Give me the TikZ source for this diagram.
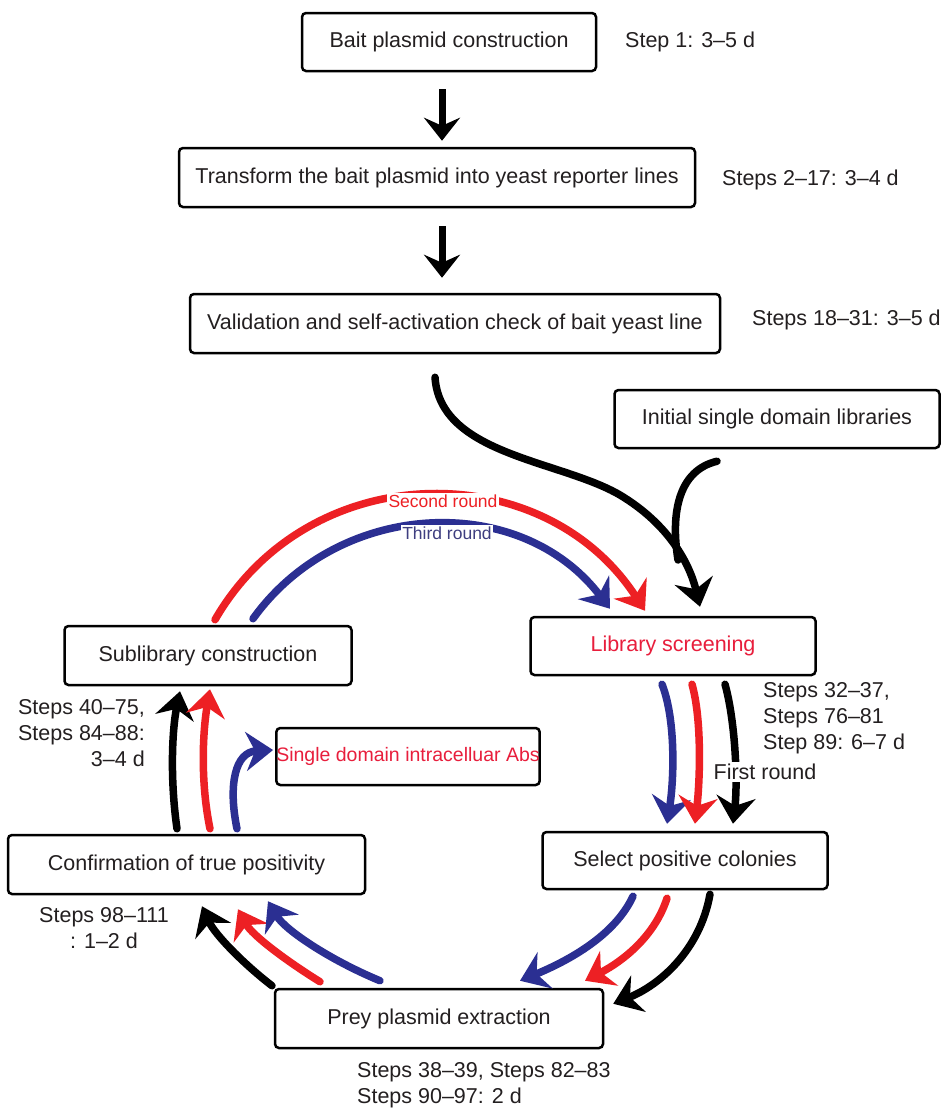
\documentclass[tikz,border=0pt]{standalone}
\usepackage{fontspec}
\setmainfont{Liberation Sans}
\usetikzlibrary{arrows.meta,calc}
\definecolor{myred}{RGB}{237,32,36}
\definecolor{myblue}{RGB}{43,47,146}
\definecolor{txtred}{RGB}{232,30,60}
\definecolor{txtblue}{RGB}{62,62,128}
\definecolor{txt}{RGB}{35,31,32}
\begin{document}
\begin{tikzpicture}[x=1pt,y=-1pt,
  box/.style={draw=black,line width=2.5pt,rounded corners=4pt,fill=white,inner sep=0pt,
    font=\fontsize{21.5}{25}\selectfont,text=txt},
  lbl/.style={font=\fontsize{21.5}{26}\selectfont,text=txt,inner sep=0pt},
  rlbl/.style={font=\fontsize{17.5}{20}\selectfont,fill=white,inner sep=1.5pt},
  varr/.style={line width=7pt,-{Stealth[length=23pt,width=36pt,inset=8pt]}},
  arr/.style={line width=7.5pt,line cap=round,-{Stealth[length=27pt,width=39pt,inset=9pt]}},
  plain/.style={line width=7.5pt,line cap=round}
]
\useasboundingbox[fill=white] (0,0) rectangle (946,1109);

% boxes
\node[box,minimum width=294pt,minimum height=58pt] (bait) at (449,42) {Bait plasmid construction};
\node[box,minimum width=516pt,minimum height=59pt] (trans) at (437,177.5) {Transform the bait plasmid into yeast reporter lines};
\node[box,minimum width=530pt,minimum height=59pt] (valid) at (455,323.5) {Validation and self-activation check of bait yeast line};
\node[box,minimum width=325pt,minimum height=58pt] (init) at (777,419) {Initial single domain libraries};
\node[box,minimum width=285pt,minimum height=58pt,text=txtred] (lib) at (673,646) {Library screening};
\node[box,minimum width=285pt,minimum height=57pt] (sel) at (685,860.5) {Select positive colonies};
\node[box,minimum width=287pt,minimum height=59pt] (sub) at (208,655.5) {Sublibrary construction};
\node[box,minimum width=258pt,minimum height=57pt,text=txtred,font=\fontsize{19.5}{23}\selectfont] (single) at (408,756.5) {Single domain intracelluar Abs};
\node[box,minimum width=357pt,minimum height=59pt] (conf) at (186.5,864.5) {Confirmation of true positivity};
\node[box,minimum width=328pt,minimum height=59pt] (prey) at (439,1018.5) {Prey plasmid extraction};

% step labels
\node[lbl,anchor=west] (s1) at (625,42) {Step 1: 3–5 d};
\node[lbl,anchor=west] (s2) at (722,180) {Steps 2–17: 3–4 d};
\node[lbl,anchor=west] (s18) at (752,320) {Steps 18–31: 3–5 d};
\node[lbl,anchor=west,align=left] (s32) at (763,718) {Steps 32–37,\\Steps 76–81\\Step 89: 6–7 d};
\node[lbl,anchor=east,align=right] (s40) at (145,733) {Steps 40–75,\\Steps 84–88:\\3–4 d};
\node[lbl,align=center] (s98) at (104,928) {Steps 98–111\\: 1–2 d};
\node[lbl,anchor=west,align=left] (s38) at (357,1085) {Steps 38–39, Steps 82–83\\Steps 90–97: 2 d};

% main flow
\draw[varr,black] ($(bait.south)+(-7,17)$) -- ($(trans.north)+(5,-6)$);
\draw[varr,black] ($(trans.south)+(5,18)$) -- ($(valid.north)+(-13,-15)$);

\coordinate (merge) at (678,560);
\draw[arr,black] ($(valid.south)+(-20,23)$) .. controls (440,455) and (560,460) .. (620,495)
  .. controls (670,525) and (690,565) .. ($(lib.north)+(27,-9)$);
\draw[plain,black] ($(init.south)+(-60,12)$) .. controls (680,470) and (670,510) .. (merge);

% rounds arcs
\draw[arr,myred] ($(sub.north)+(7,-5)$) .. controls (309,457) and (543,454) .. ($(lib.north)+(-28,-5)$);
\draw[arr,myblue] ($(sub.north)+(45,-6)$) .. controls (339,499) and (520,491) .. ($(lib.north)+(-63,-7)$);
\node[rlbl,text=myred] (second) at (443,501) {Second round};
\node[rlbl,text=txtblue] (third) at (447,533) {Third round};

% library -> select
\draw[arr,myblue] ($(lib.south)+(-11,8)$) .. controls (676,720) and (674,780) .. ($(sel.north)+(-18,-7)$);
\draw[arr,myred] ($(lib.south)+(19,8)$) .. controls (702,720) and (700,780) .. ($(sel.north)+(10,-7)$);
\draw[arr,black] ($(lib.south)+(52,8)$) .. controls (735,720) and (738,780) .. ($(sel.north)+(48,-7)$);
\node[lbl,fill=white,inner sep=2pt] (first) at (765,772) {First round};

% select -> prey
\draw[arr,myblue] ($(sel.south)+(-52,6)$) .. controls (615,935) and (570,960) .. ($(prey.north)+(81,-7)$);
\draw[arr,myred] ($(sel.south)+(-18,8)$) .. controls (655,935) and (625,960) .. ($(prey.north)+(146,-7)$);
\draw[arr,black] ($(sel.south)+(25,4)$) .. controls (700,950) and (660,985) .. ($(prey.north east)+(9,16)$);

% prey -> confirmation
\draw[arr,black] ($(prey.north)+(-167,-2)$) .. controls (245,965) and (215,935) .. ($(conf.south)+(15.5,11)$);
\draw[arr,myred] ($(prey.north)+(-119,-6)$) .. controls (285,960) and (252,935) .. ($(conf.south)+(51.5,14)$);
\draw[arr,myblue] ($(prey.north)+(-59,-7)$) .. controls (330,960) and (285,930) .. ($(conf.south)+(81.5,6)$);

% confirmation -> sublibrary / single domain
\draw[arr,black] ($(conf.north)+(-9.5,-5)$) .. controls (170,780) and (172,730) .. ($(sub.south)+(-28,5)$);
\draw[arr,myred] ($(conf.north)+(23.5,-5)$) .. controls (200,780) and (203,730) .. ($(sub.south)+(2,3)$);
\draw[arr,myblue] ($(conf.north)+(50.5,-5)$) .. controls (228,785) and (235,752) .. ($(single.west)+(-2,-6.5)$);
\end{tikzpicture}
\end{document}
